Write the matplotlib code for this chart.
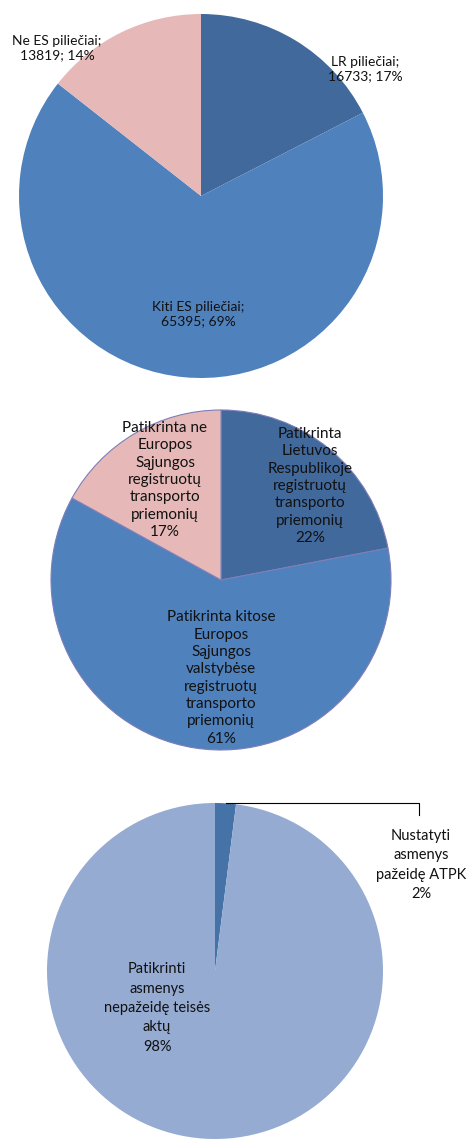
import matplotlib
matplotlib.use("Agg")
import matplotlib.pyplot as plt

plt.rcParams['font.family'] = ['Lato', 'DejaVu Sans']

# chart 1 - piliečiai
cit_labels = ["LR piliečiai;\n16733; 17%", "Kiti ES piliečiai;\n65395; 69%", "Ne ES piliečiai;\n13819; 14%"]
cit_values = [16733, 65395, 13819]
cit_colors = ["#41699B", "#4F81BD", "#E6B9B8"]

# chart 2 - transporto priemonės
veh_labels = ["Patikrinta\nLietuvos\nRespublikoje\nregistruotų\ntransporto\npriemonių\n22%",
              "Patikrinta kitose\nEuropos\nSąjungos\nvalstybėse\nregistruotų\ntransporto\npriemonių\n61%",
              "Patikrinta ne\nEuropos\nSąjungos\nregistruotų\ntransporto\npriemonių\n17%"]
veh_values = [22, 61, 17]
veh_colors = ["#41699B", "#4F81BD", "#E6B9B8"]

# chart 3 - asmenys
per_labels = ["Nustatyti\nasmenys\npažeidę ATPK\n2%", "Patikrinti\nasmenys\nnepažeidę teisės\naktų\n98%"]
per_values = [2, 98]
per_colors = ["#4572A7", "#95ABD2"]

W, H = 468, 1142
fig = plt.figure(figsize=(W / 100, H / 100), dpi=100)
ax = fig.add_axes([0, 0, 1, 1])

def py(y):
    return H - y

ax.pie(cit_values, colors=cit_colors, startangle=90, counterclock=False,
       center=(201, py(196)), radius=182, frame=True,
       wedgeprops=dict(linewidth=0))
ax.pie(veh_values, colors=veh_colors, startangle=90, counterclock=False,
       center=(221, py(580)), radius=170, frame=True,
       wedgeprops=dict(linewidth=0.8, edgecolor="#7E7EB8"))
ax.pie(per_values, colors=per_colors, startangle=90, counterclock=False,
       center=(215, py(971)), radius=168, frame=True,
       wedgeprops=dict(linewidth=0))

ax.set_xlim(0, W)
ax.set_ylim(0, H)
ax.set_aspect("equal")
ax.axis("off")

tc = "#111111"
# chart 1 labels
ax.text(365, py(69), cit_labels[0], ha="center", va="center", fontsize=10, color=tc, linespacing=1.22)
ax.text(198, py(314), cit_labels[1], ha="center", va="center", fontsize=10, color=tc, linespacing=1.22)
ax.text(57, py(48), cit_labels[2], ha="center", va="center", fontsize=10, color=tc, linespacing=1.22)

# chart 2 labels
ax.text(310, py(486), veh_labels[0], ha="center", va="center", fontsize=11, color=tc, linespacing=1.3)
ax.text(221, py(678), veh_labels[1], ha="center", va="center", fontsize=11, color=tc, linespacing=1.3)
ax.text(165, py(480), veh_labels[2], ha="center", va="center", fontsize=11, color=tc, linespacing=1.3)

# chart 3 labels
ax.text(421, py(865), per_labels[0], ha="center", va="center", fontsize=10.5, color=tc, linespacing=1.5)
ax.text(157, py(1008), per_labels[1], ha="center", va="center", fontsize=10.5, color=tc, linespacing=1.5)
ax.plot([226, 419, 419], [py(803), py(803), py(815)], color="#000000", linewidth=0.8)

fig.savefig("out.png", dpi=100)
